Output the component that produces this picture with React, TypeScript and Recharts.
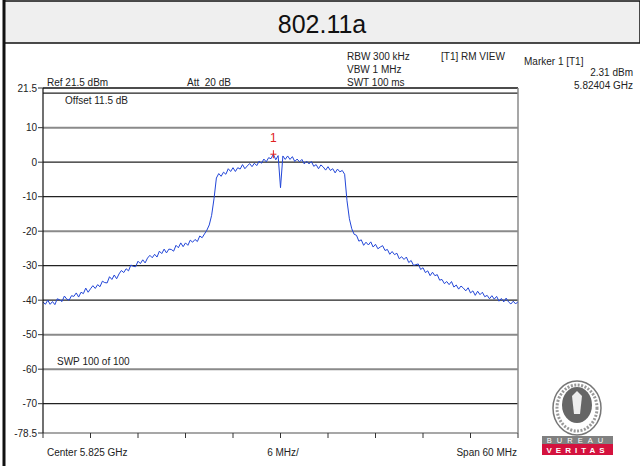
import React from "react";
import { LineChart, Line, XAxis, YAxis, ReferenceLine, ReferenceDot } from "recharts";

// sweep: 201 points, -30 MHz .. +30 MHz around 5.825 GHz
const SWEEP_START = -30;
const SWEEP_STEP = 0.3;

const LEVELS_DBM: number[] = [
  -40.5, -41.2, -40.0, -41.2, -40.4, -41.3, -39.6, -39.9, -40.4, -38.8,
  -39.7, -40.0, -38.7, -38.9, -37.9, -39.1, -37.7, -38.1, -36.5, -37.7,
  -36.7, -35.8, -36.6, -35.5, -36.1, -34.5, -34.9, -35.0, -33.2, -34.0,
  -32.7, -33.8, -32.4, -31.4, -32.0, -30.9, -31.5, -29.8, -30.2, -30.3,
  -28.7, -29.4, -28.3, -29.2, -27.8, -27.0, -27.7, -26.7, -27.5, -25.8,
  -26.5, -25.2, -26.3, -25.2, -25.3, -25.8, -24.1, -24.8, -23.4, -24.5,
  -23.4, -24.1, -22.6, -23.2, -22.4, -23.0, -21.4, -21.9, -20.8, -19.7,
  -18.2, -15.4, -10.6, -4.6, -3.3, -4.1, -2.9, -3.5, -1.9, -2.7,
  -1.6, -2.7, -1.6, -2.0, -0.7, -1.9, -1.1, -0.4, -1.3, -0.3,
  -1.0, 0.3, -0.3, 0.9, 0.1, 1.3, 1.0, 2.31, 0.7, 1.9,
  -7.4, 1.8, 0.8, 1.8, 0.8, 1.6, 0.2, 0.9, 0.1, 0.8,
  -0.5, 0.3, -0.5, 0.2, -1.2, -0.7, -1.9, -0.8, -1.4, -2.3,
  -1.3, -2.4, -1.9, -3.1, -2.0, -2.8, -2.4, -3.5, -11.2, -16.4,
  -19.3, -20.9, -21.2, -22.9, -22.5, -24.1, -23.2, -24.0, -23.1, -24.6,
  -23.8, -25.1, -24.6, -24.2, -25.6, -25.3, -26.7, -25.9, -26.8, -26.4,
  -28.0, -27.4, -28.2, -27.5, -29.1, -28.5, -29.9, -29.7, -29.5, -31.1,
  -30.6, -32.0, -31.5, -32.9, -31.9, -32.9, -32.6, -34.2, -34.0, -35.2,
  -34.6, -35.5, -34.6, -36.2, -35.6, -36.8, -35.9, -36.5, -37.3, -36.4,
  -37.9, -37.3, -38.6, -37.4, -38.4, -37.7, -39.0, -38.6, -39.6, -38.7,
  -39.7, -38.9, -40.3, -39.5, -40.5, -39.4, -40.5, -41.1, -40.3, -41.1,
  -40.4,
];

const Y_TICKS = [21.5, 10, 0, -10, -20, -30, -40, -50, -60, -70, -78.5];
const X_TICKS = [-30, -24, -18, -12, -6, 0, 6, 12, 18, 24, 30];
const GRID_DARK = [0, -10, -30, -40, -70];
const GRID_GRAY = [10, -20, -50, -60];
const DISPLAY_LINE = 20;

const MARKER_FREQ = -0.9;
const MARKER_LEVEL = 2.31;

const data = LEVELS_DBM.map((level, i) => ({ f: SWEEP_START + i * SWEEP_STEP, level }));

const FONT = "'Liberation Sans', Arial, sans-serif";
const TXT = "#222";

const MarkerShape = (props: any) => {
  const { cx, cy } = props;
  return (
    <g>
      <line x1={cx - 3} y1={cy} x2={cx + 3} y2={cy} stroke="#e02020" strokeWidth={1} />
      <line x1={cx} y1={cy - 4} x2={cx} y2={cy + 4} stroke="#e02020" strokeWidth={1} />
      <text x={cx} y={cy - 12} fill="#e02020" fontSize={12} fontFamily={FONT} textAnchor="middle">
        1
      </text>
    </g>
  );
};

const Decor = () => (
  <svg width={640} height={466} style={{ position: "absolute", left: 0, top: 0 }}>
    <rect x={4} y={1} width={636} height={42} fill="#efefef" stroke="#111" strokeWidth={1.5} />
    <line x1={4} y1={0} x2={4} y2={466} stroke="#111" strokeWidth={3} />
    <text x={322} y={33} fontSize={25} fontFamily={FONT} fill="#111" textAnchor="middle">
      802.11a
    </text>
    <g fontFamily={FONT} fontSize={10} fill={TXT}>
      <text x={47} y={86}>Ref 21.5 dBm</text>
      <text x={187} y={86}>{"Att\u00a0\u00a020 dB"}</text>
      <text x={347} y={60}>RBW 300 kHz</text>
      <text x={347} y={73}>VBW 1 MHz</text>
      <text x={347} y={86}>SWT 100 ms</text>
      <text x={441} y={60}>[T1] RM VIEW</text>
      <text x={524} y={65}>Marker 1 [T1]</text>
      <text x={633} y={76} textAnchor="end">2.31 dBm</text>
      <text x={633} y={89} textAnchor="end">5.82404 GHz</text>
      <text x={65} y={104}>Offset 11.5 dB</text>
      <text x={57} y={365}>SWP 100 of 100</text>
      <text x={47} y={456}>Center 5.825 GHz</text>
      <text x={283} y={456} textAnchor="middle">6 MHz/</text>
      <text x={517} y={456} textAnchor="end">Span 60 MHz</text>
    </g>
    {/* Bureau Veritas mark */}
    <g>
      <ellipse cx={577} cy={408} rx={24} ry={27} fill="#fff" stroke="#777" strokeWidth={1.5} />
      <ellipse cx={577} cy={408} rx={20} ry={23} fill="#fff" stroke="#999" strokeWidth={3} strokeDasharray="2 1.5" />
      <ellipse cx={577} cy={405} rx={15} ry={18} fill="#666" />
      <path d="M572 396 L577 391 L582 396 L580 414 L574 414 Z" fill="#eee" />
      <rect x={542} y={436} width={71} height={8} fill="#808080" />
      <rect x={542} y={444} width={71} height={11} fill="#d4123e" />
      <text x={577.5} y={443} fontSize={7.5} fontFamily={FONT} fill="#fff" textAnchor="middle" letterSpacing={5}>
        BUREAU
      </text>
      <text x={577.5} y={453} fontSize={8} fontFamily={FONT} fontWeight="bold" fill="#fff" textAnchor="middle" letterSpacing={4}>
        VERITAS
      </text>
    </g>
  </svg>
);

const EmptyTick = () => <g />;

export default function App() {
  return (
    <div style={{ position: "absolute", left: 0, top: 0, width: 640, height: 466, background: "#fff" }}>
      <Decor />
      <div style={{ position: "absolute", left: 0, top: 0 }}>
        <LineChart width={640} height={466} data={data} margin={{ top: 88, right: 122, bottom: 0, left: 0 }}>
          <XAxis
            type="number"
            dataKey="f"
            domain={[-30, 30]}
            ticks={X_TICKS}
            allowDataOverflow
            height={33}
            axisLine={{ stroke: "#8a8a8a", strokeWidth: 1.5 }}
            tickLine={{ stroke: "#333" }}
            tickSize={5}
            tick={EmptyTick}
          />
          <YAxis
            type="number"
            domain={[-78.5, 21.5]}
            ticks={Y_TICKS}
            interval={0}
            allowDataOverflow
            width={43}
            axisLine={{ stroke: "#111", strokeWidth: 1.2 }}
            tickLine={{ stroke: "#333" }}
            tickSize={5}
            tickMargin={1}
            tick={{ fontSize: 10, fill: TXT, fontFamily: FONT }}
          />
          {GRID_GRAY.map((v) => (
            <ReferenceLine key={`g${v}`} y={v} stroke="#8a8a8a" strokeWidth={2} />
          ))}
          {GRID_DARK.map((v) => (
            <ReferenceLine key={`d${v}`} y={v} stroke="#222" strokeWidth={1.2} />
          ))}
          <ReferenceLine y={DISPLAY_LINE} stroke="#222" strokeWidth={1.2} />
          <ReferenceLine y={21.5} stroke="#111" strokeWidth={1.5} />
          <ReferenceLine x={30} stroke="#8a8a8a" strokeWidth={1.5} />
          <Line
            type="linear"
            dataKey="level"
            stroke="#2246d8"
            strokeWidth={1}
            dot={false}
            isAnimationActive={false}
          />
          <ReferenceDot x={MARKER_FREQ} y={MARKER_LEVEL} shape={MarkerShape} />
        </LineChart>
      </div>
    </div>
  );
}
